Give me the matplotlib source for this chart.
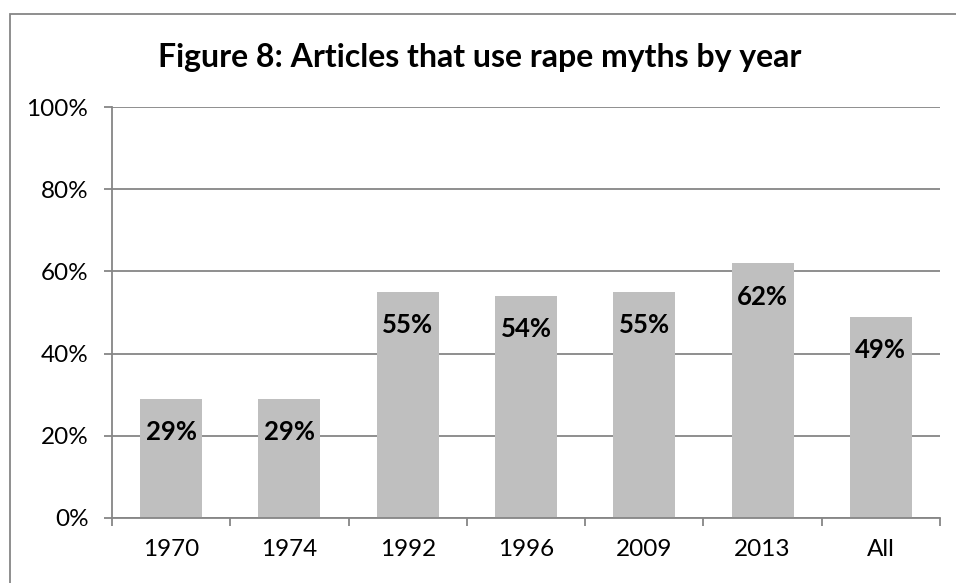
import matplotlib
matplotlib.use("Agg")
import matplotlib.pyplot as plt
from matplotlib.patches import Rectangle
from matplotlib.ticker import FuncFormatter, MultipleLocator

years = ["1970", "1974", "1992", "1996", "2009", "2013", "All"]
share = [29, 29, 55, 54, 55, 62, 49]
labels = ["29%", "29%", "55%", "54%", "55%", "62%", "49%"]

plt.rcParams["font.family"] = ["Lato", "DejaVu Sans"]

fig = plt.figure(figsize=(9.56, 5.83), dpi=100)
W, H = 956, 583

# chart frame (only top and left edges fall inside the image)
fig.patches.append(Rectangle((10 / W, -0.1), 1.2, 1 - 14 / H + 0.1,
                             transform=fig.transFigure, fill=False,
                             edgecolor="#868686", linewidth=1.3))

ax = fig.add_axes([112 / W, 1 - 518 / H, (940 - 112) / W, (518 - 107) / H])
x = range(len(years))
ax.bar(x, share, width=0.525, color="#bfbfbf", zorder=2)
ax.set_xlim(-0.5, len(years) - 0.5)
ax.set_ylim(0, 100)

for xi, v, t in zip(x, share, labels):
    ax.annotate(t, (xi, v), xytext=(0, -24), textcoords="offset points",
                ha="center", va="center", fontsize=18.5, fontweight="bold", zorder=3)

ax.yaxis.set_major_locator(MultipleLocator(20))
ax.yaxis.set_major_formatter(FuncFormatter(lambda v, p: f"{int(v)}%"))
ax.grid(axis="y", color="#868686", linewidth=1.3, zorder=0)
ax.set_xticks([i - 0.5 for i in range(len(years) + 1)])
ax.set_xticklabels([])
ax.set_xticks(list(x), minor=True)
ax.set_xticklabels(years, minor=True)
ax.tick_params(axis="x", which="major", length=6, width=1.3, color="#868686", direction="out")
ax.tick_params(axis="x", which="minor", length=0, pad=15, labelsize=17.5)
ax.tick_params(axis="y", length=6, width=1.3, color="#868686", labelsize=17.5, pad=11)

for side in ["top", "right"]:
    ax.spines[side].set_visible(False)
for side in ["left", "bottom"]:
    ax.spines[side].set_color("#868686")
    ax.spines[side].set_linewidth(1.3)

fig.text(480 / W, 1 - 58 / H, "Figure 8: Articles that use rape myths by year",
         ha="center", va="center", fontsize=23, fontweight="bold")

fig.savefig("out.png", dpi=100)
